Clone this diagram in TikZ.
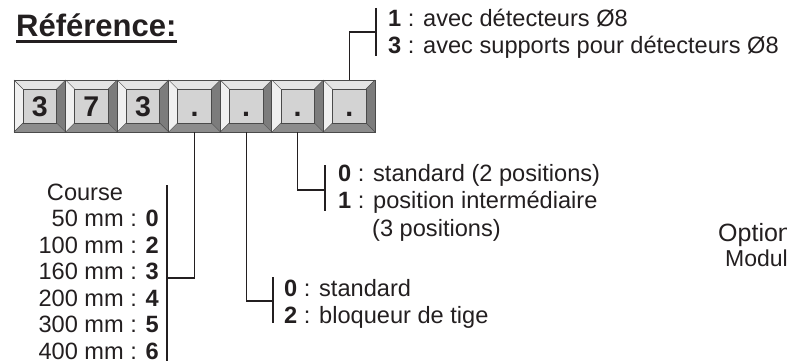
\documentclass[tikz,border=0pt]{standalone}
\usepackage{fontspec}
\setmainfont{Liberation Sans}
\usetikzlibrary{positioning,calc}
\definecolor{ink}{HTML}{231F20}
\definecolor{keyedge}{HTML}{4A4A4A}
\definecolor{keytop}{HTML}{E4E4E4}
\definecolor{keyleft}{HTML}{F0F0F0}
\definecolor{keyright}{HTML}{7C7C7C}
\definecolor{keybottom}{HTML}{8C8C8C}
\definecolor{keyface}{HTML}{D3D3D3}
\newcommand{\opt}[2]{\textbf{#1} : #2}

\begin{document}
\begin{tikzpicture}[x=1pt,y=-1pt,
    keybox/.style={draw=keyedge,line width=0.9pt,minimum width=51.6pt,minimum height=52pt,
      inner sep=0,text height=20.5pt,text depth=0pt,
      font=\fontsize{28.5}{32}\selectfont\bfseries,text=ink},
    lbl/.style={anchor=base west,inner sep=0,font=\fontsize{23.6}{28}\selectfont,text=ink},
    rlbl/.style={lbl,anchor=base east},
    link/.style={draw=ink,line width=1.1pt}]
  \useasboundingbox (0,0) rectangle (787,361);
  % title
  \node[lbl,font=\fontsize{31}{36}\selectfont\bfseries] (title) at (16,37) {Référence:};
  \draw[ink,line width=2.2pt] ([yshift=-4.5pt]title.base west) -- ([yshift=-4.5pt]title.base east);
  % keys
  \foreach \d [count=\i] in {3,7,3,.,.,.,.} {
    \begin{scope}[shift={({14+51.57*(\i-0.5)},106)}]
      \fill[keytop] (-25.8,-26) -- (25.8,-26) -- (16.8,-17) -- (-16.8,-17) -- cycle;
      \fill[keyleft] (-25.8,-26) -- (-16.8,-17) -- (-16.8,17) -- (-25.8,26) -- cycle;
      \fill[keyright] (25.8,-26) -- (25.8,26) -- (16.8,17) -- (16.8,-17) -- cycle;
      \fill[keybottom] (-25.8,26) -- (25.8,26) -- (16.8,17) -- (-16.8,17) -- cycle;
      \draw[keyedge,line width=0.4pt] (-25.8,-26) -- (-16.8,-17) (25.8,-26) -- (16.8,-17)
        (25.8,26) -- (16.8,17) (-25.8,26) -- (-16.8,17);
      \draw[keyedge,fill=keyface,line width=0.6pt] (-16.8,-17) rectangle (16.8,17);
    \end{scope}
    \node[keybox] (k\i) at ({14+51.57*(\i-0.5)},106) {\d};
  }
  % options
  \node[lbl] (d1) at (388,26.5) {\opt{1}{avec détecteurs Ø8}};
  \node[lbl] (d3) at (388,53.5) {\opt{3}{avec supports pour détecteurs Ø8}};
  \node[lbl] (p0) at (338,181) {\opt{0}{standard (2 positions)}};
  \node[lbl] (p1) at (338,208) {\opt{1}{position intermédiaire}};
  \node[lbl] (p1b) at (372,236) {(3 positions)};
  \node[lbl] (t0) at (284,296) {\opt{0}{standard}};
  \node[lbl] (t2) at (284,323) {\opt{2}{bloqueur de tige}};
  \node[lbl,anchor=base] (course) at (85,200) {Course};
  \foreach \len/\code [count=\j] in {50/0,100/2,160/3,200/4,300/5,400/6}
    \node[rlbl] (c\j) at (159,{200+26.5*\j}) {\len\ mm : \textbf{\code}};
  \node[lbl,font=\fontsize{25}{30}\selectfont] (option) at (718,241) {Option};
  \node[lbl,font=\fontsize{23}{27}\selectfont] (module) at (725,266) {Modul};
  % links
  \coordinate (b7) at (376,32);
  \coordinate (b6) at (325,190);
  \coordinate (b5) at (273,301);
  \coordinate (b4) at (167,278);
  \draw[link] (k7.north) |- (b7);
  \draw[link] (k6.south) |- (b6);
  \draw[link] (k5.south) |- (b5);
  \draw[link] (k4.south) |- (b4);
  \draw[link] (376,8) -- (376,56);
  \draw[link] (325,165) -- (325,211);
  \draw[link] (273,277) -- (273,323);
  \draw[link] (167,185) -- (167,365);
\end{tikzpicture}
\end{document}
